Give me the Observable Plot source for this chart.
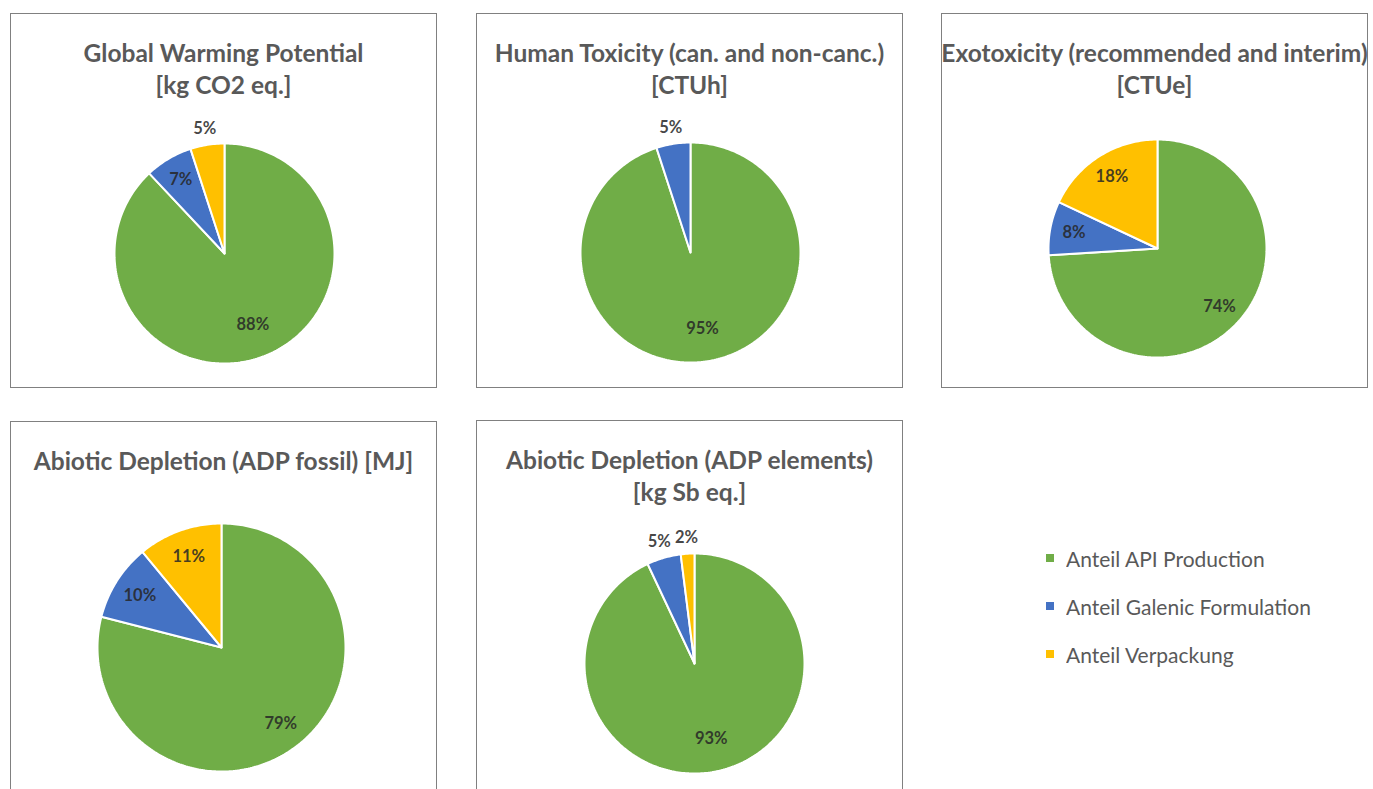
<!DOCTYPE html>
<html>
<head>
<meta charset="utf-8">
<script src="https://cdn.jsdelivr.net/npm/d3@7"></script>
<script src="https://cdn.jsdelivr.net/npm/@observablehq/plot@0.6"></script>
<style>
  body { margin: 0; background: #fff; font-family: Lato, "Open Sans", sans-serif; }
  #root { position: relative; width: 1373px; height: 789px; overflow: hidden; }
  .box { position: absolute; width: 427px; height: 375px; border: 1.5px solid #808080; box-sizing: border-box; }
  .box svg { position: absolute; left: 0; top: 0; overflow: visible; }
  .title { position: absolute; left: -60px; right: -60px; top: 23px; text-align: center; font-weight: 700;
           font-size: 24.5px; line-height: 32px; color: #595959; white-space: nowrap; }
  #legend { position: absolute; left: 1046px; top: 534px; }
  #legend div { font-family: Lato, sans-serif; font-size: 21px; color: #595959; margin: 0; }
  #legend .lg-swatch { height: 48px; padding: 0; }
  #legend .lg-swatch svg { margin-right: 12px; }
</style>
</head>
<body>
<div id="root"></div>
<script>
// Contribution shares (%) of the three life-cycle stages per impact category
const categories = ["Anteil API Production", "Anteil Galenic Formulation", "Anteil Verpackung"];
const colors = ["#70AD47", "#4472C4", "#FFC000"];

const titles = [
  ["Global Warming Potential", "[kg CO2 eq.]"],
  ["Human Toxicity (can. and non-canc.)", "[CTUh]"],
  ["Exotoxicity (recommended and interim)", "[CTUe]"],
  ["Abiotic Depletion (ADP fossil) [MJ]"],
  ["Abiotic Depletion (ADP elements)", "[kg Sb eq.]"]
];
const apiShare = [88, 95, 74, 79, 93];
const galenicShare = [7, 5, 8, 10, 5];
const packagingShare = [5, 0, 18, 11, 2];

// Panel frames on the page and pie geometry inside each frame
const panelLayout = [
  {left: 10,  top: 13,  r: 110, cx: 213, cy: 239},
  {left: 476, top: 13,  r: 110, cx: 213, cy: 238},
  {left: 941, top: 13,  r: 109, cx: 215, cy: 234},
  {left: 10,  top: 421, r: 124, cx: 210, cy: 225},
  {left: 476, top: 420, r: 110, cx: 217, cy: 242}
];

const root = document.getElementById("root");
const W = 424, H = 372;
const pie = d3.pie().sort(null).value(d => d.value);

titles.forEach((title, i) => {
  const L = panelLayout[i];
  const values = [apiShare[i], galenicShare[i], packagingShare[i]];
  const rows = categories.map((c, j) => ({category: c, value: values[j]}));
  const arcs = pie(rows).filter(a => a.value > 0);

  // Outline of each slice: centre -> arc -> centre
  const slicePts = [];
  for (const a of arcs) {
    const n = Math.max(2, Math.ceil((a.endAngle - a.startAngle) / (Math.PI / 180)) + 1);
    slicePts.push({category: a.data.category, x: 0, y: 0});
    for (let k = 0; k < n; ++k) {
      const t = a.startAngle + (a.endAngle - a.startAngle) * k / (n - 1);
      slicePts.push({category: a.data.category, x: Math.sin(t), y: Math.cos(t)});
    }
    slicePts.push({category: a.data.category, x: 0, y: 0});
  }

  // Percentage labels: inside the slice (nearer the centre for dominant slices),
  // or just outside the rim for thin slices
  const labels = arcs.map(a => {
    const m = (a.startAngle + a.endAngle) / 2;
    const k = a.value < 6 ? 1.15 : a.value >= 85 ? 0.7 : 0.78;
    return {x: k * Math.sin(m), y: k * Math.cos(m), label: `${a.value}%`};
  });

  const box = document.createElement("div");
  box.className = "box";
  box.style.left = L.left + "px";
  box.style.top = L.top + "px";

  const chart = Plot.plot({
    width: W,
    height: H,
    marginLeft: L.cx - L.r,
    marginRight: W - L.cx - L.r,
    marginTop: L.cy - L.r,
    marginBottom: H - L.cy - L.r,
    x: {domain: [-1, 1], axis: null},
    y: {domain: [-1, 1], axis: null},
    color: {domain: categories, range: colors},
    style: {background: "transparent"},
    marks: [
      Plot.line(slicePts, {x: "x", y: "y", z: "category", fill: "category", stroke: "white",
                           strokeWidth: 2, strokeLinejoin: "miter", curve: "linear"}),
      Plot.text(labels, {x: "x", y: "y", text: "label", fill: "#262626", fillOpacity: 0.85,
                         fontSize: 16.5, fontWeight: 700, fontFamily: "Lato, sans-serif"})
    ]
  });
  box.appendChild(chart);

  const t = document.createElement("div");
  t.className = "title";
  t.innerHTML = title.map(s => s.replace(/&/g, "&amp;").replace(/</g, "&lt;")).join("<br>");
  box.appendChild(t);

  root.appendChild(box);
});

// Legend
const legendWrap = document.createElement("div");
legendWrap.id = "legend";
legendWrap.appendChild(Plot.legend({
  color: {domain: categories, range: colors},
  legend: "swatches",
  swatchSize: 8,
  columns: 1,
  className: "lg"
}));
root.appendChild(legendWrap);
</script>
</body>
</html>
